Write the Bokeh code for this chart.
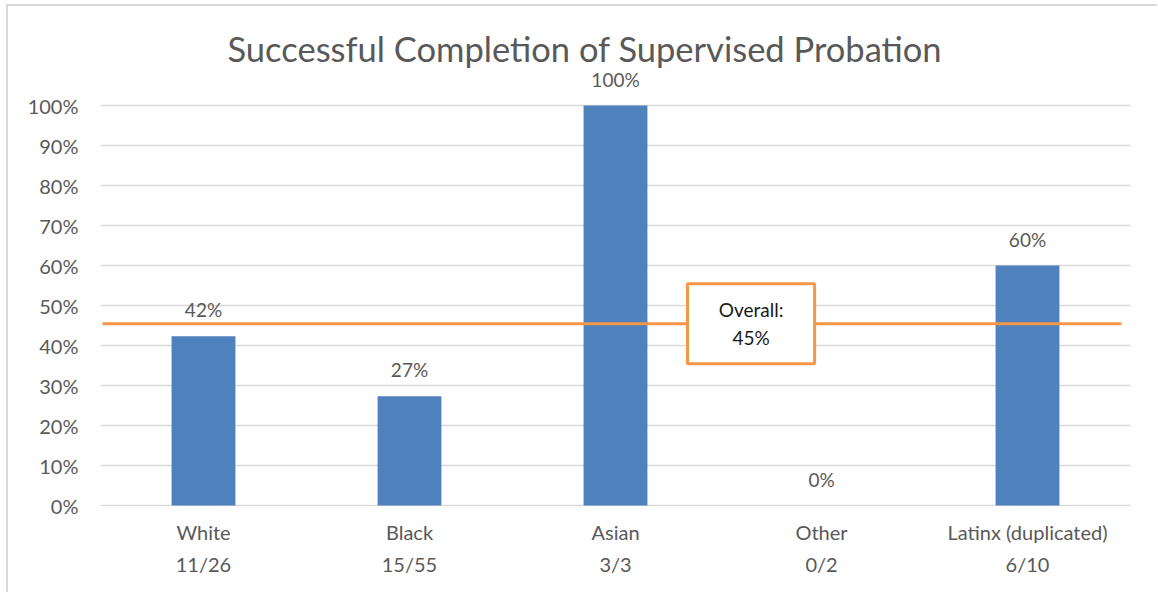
from bokeh.plotting import figure
from bokeh.models import FixedTicker, ColumnDataSource, Range1d
from bokeh.embed import file_html
from bokeh.resources import INLINE
from bokeh.core.properties import value

# ---- data ----
categories = ["White", "Black", "Asian", "Other", "Latinx (duplicated)"]
counts = ["11/26", "15/55", "3/3", "0/2", "6/10"]
rates = [42.3, 27.3, 100.0, 0.0, 60.0]
rate_labels = ["42%", "27%", "100%", "0%", "60%"]
overall_rate = 45.45
overall_label = "Overall:\n45%"
y_ticks = [0, 10, 20, 30, 40, 50, 60, 70, 80, 90, 100]

FONT = "Lato"
GREY = "#595959"
BLUE = "#4F81BD"
ORANGE = "#F79646"

xs = [i + 0.5 for i in range(len(categories))]
src = ColumnDataSource(dict(x=xs, top=rates, lab=rate_labels))

W, H = 1151, 588
p = figure(width=W, height=H, output_backend="svg", toolbar_location=None,
           x_range=Range1d(0, len(categories)), y_range=Range1d(-0.25, 109.25),
           min_border_left=92, min_border_right=29, min_border_top=62, min_border_bottom=88,
           title="Successful Completion of Supervised Probation")
p.styles = {"margin-left": "6px", "margin-top": "4px",
            "border-left": "2px solid #d9d9d9", "border-top": "2px solid #d9d9d9"}

p.title.align = "left"
p.title.text_font = FONT
p.title.text_font_size = "34.5px"
p.title.text_font_style = "normal"
p.title.text_color = GREY
p.title.standoff = 0
p.title.offset = 127

p.outline_line_color = None
p.background_fill_color = "white"
p.border_fill_color = "white"

# axes
p.xaxis.ticker = FixedTicker(ticks=xs)
p.xaxis.major_label_overrides = {x: f"{c}\n{n}" for x, c, n in zip(xs, categories, counts)}
p.yaxis.ticker = FixedTicker(ticks=y_ticks)
p.yaxis.major_label_overrides = {t: f"{t}%" for t in y_ticks}
for ax in (p.xaxis, p.yaxis):
    ax.axis_line_color = None
    ax.major_tick_line_color = None
    ax.minor_tick_line_color = None
    ax.major_label_text_font = FONT
    ax.major_label_text_font_size = "20px"
    ax.major_label_text_color = GREY
p.xaxis.major_label_standoff = 7
p.xaxis.major_label_text_line_height = 1.35
p.yaxis.major_label_standoff = 16

p.xgrid.grid_line_color = None
p.ygrid.ticker = FixedTicker(ticks=y_ticks)
p.ygrid.grid_line_color = "#d9d9d9"
p.ygrid.grid_line_width = 1.5

# bars
p.vbar(x="x", top="top", bottom=0, width=0.31, source=src, fill_color=BLUE, line_color=None)
p.text(x="x", y="top", text="lab", source=src, text_align="center", text_baseline="bottom",
       y_offset=-15, text_font=value(FONT), text_font_size="19px", text_color=GREY)

# overall line + box
p.line(x=[0.01, 4.956], y=[overall_rate, overall_rate], line_color=ORANGE, line_width=3)
p.rect(x=[3.158], y=[overall_rate], width=0.617, height=20, fill_color="white",
       line_color=ORANGE, line_width=3)
p.text(x=[3.158], y=[overall_rate], text=[overall_label], text_align="center",
       text_baseline="middle", text_font=value(FONT), text_font_size="19px",
       text_color="#1a1a1a", text_line_height=1.2)

open("out.html", "w").write(file_html(p, INLINE))
